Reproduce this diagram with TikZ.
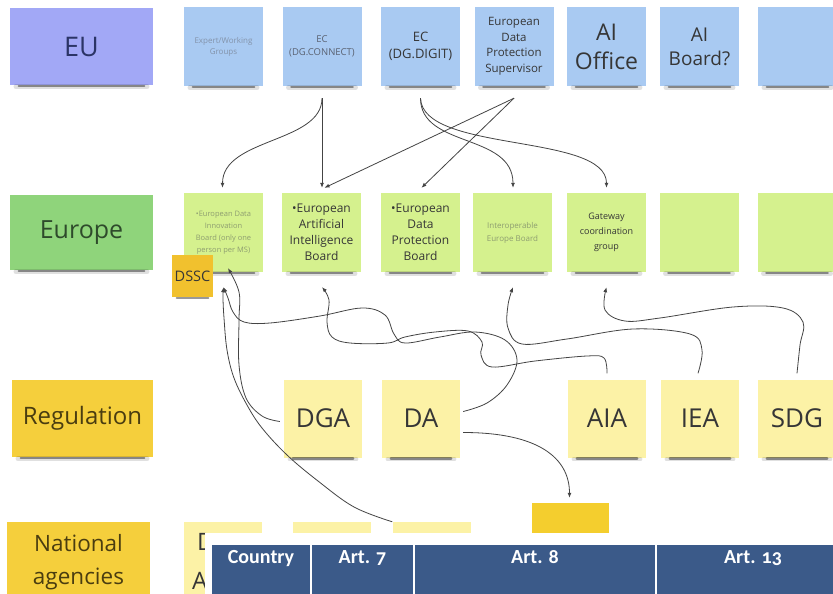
\documentclass[tikz,border=0pt]{standalone}
\usepackage{fontspec}
\setmainfont{Open Sans}
\newfontfamily\tablefont[Numbers=OldStyle]{Carlito}
\usetikzlibrary{calc, arrows.meta}
\tikzset{>={Latex[length=5pt,width=4pt]}}

\definecolor{labelblue}{HTML}{A2A8F6}
\definecolor{noteblue}{HTML}{A9CAF2}
\definecolor{labelgreen}{HTML}{8FD47B}
\definecolor{notegreen}{HTML}{D5F18E}
\definecolor{labelyellow}{HTML}{F5CF3C}
\definecolor{noteyellow}{HTML}{FCF2A6}
\definecolor{dsscyellow}{HTML}{F1C12E}
\definecolor{natorangefill}{HTML}{F4CE2E}
\definecolor{tableblue}{HTML}{3B5A89}
\definecolor{inkdark}{HTML}{363636}
\definecolor{inkmid}{HTML}{5A6272}
\definecolor{inkfade}{HTML}{8393AA}
\definecolor{inkfadegreen}{HTML}{8E9E70}
\definecolor{inkeu}{HTML}{2B3466}
\definecolor{inkeurope}{HTML}{2E4A2B}
\definecolor{inkreg}{HTML}{4A3D10}
\definecolor{wirecol}{HTML}{444444}

\newcommand{\notefont}[2]{\fontsize{#1pt}{#2pt}\selectfont}

\tikzset{
  note/.style={minimum width=79pt, minimum height=79pt, inner sep=1pt, align=center, text=inkdark},
  bluenote/.style={note, fill=noteblue},
  greennote/.style={note, fill=notegreen},
  yellownote/.style={note, fill=noteyellow, minimum width=78pt, minimum height=78pt, font={\notefont{26}{30}}},
  rowlabel/.style={minimum width=143pt, minimum height=77pt, align=center},
  wire/.style={draw=wirecol, line width=0.8pt, ->},
  shadowline/.style={line width=2.5pt, black, opacity=.4, line cap=round},
  shadowsoft/.style={line width=4.5pt, black, opacity=.12, line cap=round},
  cell/.style={fill=tableblue, draw=white, line width=1.5pt, outer sep=0pt, text=white,
    font={\tablefont\bfseries\notefont{20}{22}}, anchor=north west, inner xsep=0pt,
    inner ysep=6pt, text height=13pt, text depth=36pt, minimum height=56pt}
}

\begin{document}
\begin{tikzpicture}[x=1pt, y=-1pt]
\useasboundingbox[fill=white] (0,0) rectangle (833,594);

% row labels
\node[rowlabel, fill=labelblue, text=inkeu, font={\notefont{27}{32}}] (eu) at (81.5,46.5) {EU};
\node[rowlabel, fill=labelgreen, text=inkeurope, font={\notefont{25}{30}}, minimum height=75pt] (europe) at (81.5,232.5) {Europe};
\node[rowlabel, fill=labelyellow, text=inkreg, font={\notefont{24}{30}}, minimum width=141pt] (regulation) at (82.5,418.5) {Regulation};
\node[rowlabel, fill=labelyellow, text=inkreg, font={\notefont{22.5}{33}}, minimum height=80pt] (national) at (78.5,562) {National\\agencies};

% EU level
\node[bluenote, text=inkfade, font={\notefont{8}{11}}] (expert) at (223.5,46.5) {Expert/Working\\Groups};
\node[bluenote, text=inkmid, font={\notefont{9.5}{13}}] (dgconnect) at (322,46.5) {EC\\(DG.CONNECT)};
\node[bluenote, font={\notefont{13}{17}}] (dgdigit) at (420.5,46.5) {EC\\(DG.DIGIT)};
\node[bluenote, font={\notefont{11.5}{15.5}}] (edps) at (514,46.5) {European\\Data\\Protection\\Supervisor};
\node[bluenote, font={\notefont{23}{29}}] (aioffice) at (606.5,46.5) {AI\\Office};
\node[bluenote, font={\notefont{19}{24}}] (aiboard) at (699.5,46.5) {AI\\Board?};
\node[bluenote] (blueempty) at (797.5,46.5) {};

% Europe level
\node[greennote, text=inkfadegreen, font={\notefont{7.5}{12}}] (edib) at (223.5,232.5) {•European Data\\Innovation\\Board (only one\\person per MS)};
\node[greennote, font={\notefont{12}{16}}] (eaib) at (321.5,232.5) {•European\\Artificial\\Intelligence\\Board};
\node[greennote, font={\notefont{12}{16}}] (edpb) at (420.5,232.5) {•European\\Data\\Protection\\Board};
\node[greennote, text=inkfadegreen, font={\notefont{8}{13}}] (ieb) at (512.5,232.5) {Interoperable\\Europe Board};
\node[greennote, font={\notefont{9}{15}}] (gateway) at (606.5,232.5) {Gateway\\coordination\\group};
\node[greennote] (greenempty1) at (699,232.5) {};
\node[greennote] (greenempty2) at (797,232.5) {};

% regulations
\node[yellownote] (dga) at (323,418.5) {DGA};
\node[yellownote] (da) at (421,418.5) {DA};
\node[yellownote] (aia) at (607,418.5) {AIA};
\node[yellownote] (iea) at (700,418.5) {IEA};
\node[yellownote] (sdg) at (797,418.5) {SDG};

% shadows under the notes
\foreach \n in {eu,europe,regulation,expert,dgconnect,dgdigit,edps,aioffice,aiboard,blueempty,
  edib,eaib,edpb,ieb,gateway,greenempty1,greenempty2,dga,da,aia,iea,sdg}{
  \draw[shadowsoft] ($(\n.south west)+(6,1.5)$) -- ($(\n.south east)+(-6,1.5)$);
  \draw[shadowline] ($(\n.south west)+(9,1)$) -- ($(\n.south east)+(-9,1)$);
}

\node[note, fill=dsscyellow, minimum width=41pt, minimum height=42pt, inner sep=0pt, font={\notefont{14.5}{17}}] (dssc) at (192.5,276) {DSSC};
\draw[shadowline] ($(dssc.south west)+(5,1)$) -- ($(dssc.south east)+(-5,1)$);

% national agencies
\node[yellownote, minimum height=80pt] (nat1) at (223,562) {};
\node[yellownote, minimum height=80pt] (nat2) at (331.5,562) {};
\node[yellownote, minimum height=80pt] (nat3) at (431.5,562) {};
\node[note, fill=natorangefill, minimum width=77pt, minimum height=78pt] (natorange) at (570.5,542) {};
\node[anchor=base west, inner sep=0pt, text=inkdark, font={\notefont{24}{24}}] (natd) at (197,550) {D};
\node[anchor=base west, inner sep=0pt, text=inkdark, font={\notefont{24}{24}}] (nata) at (192,589) {A};

% EU -> Europe
\draw[wire] ($(dgconnect.south)+(0,12)$) .. controls +(0,45) and +(0,-50) .. ($(edib.north)+(-1,-5)$);
\draw[wire] ($(dgconnect.south)+(0,12)$) -- ($(eaib.north)+(0.5,-5)$);
\draw[wire] ($(edps.south)+(0,12)$) -- ($(eaib.north)+(3,-5)$);
\draw[wire] ($(edps.south)+(0,12)$) -- ($(edpb.north)+(1,-5)$);
\draw[wire] ($(dgdigit.south)+(0,12)$) .. controls +(0,50) and +(0,-55) .. ($(ieb.north)+(0.5,-5)$);
\draw[wire] ($(dgdigit.south)+(0,12)$) .. controls +(2,55) and +(0,-55) .. ($(gateway.north)+(0,-5)$);

% Regulation -> Europe
\coordinate (dgaout) at ($(dga.west)+(-4,3)$);
\coordinate (daout) at ($(da.east)+(3,-7)$);
\coordinate (aiaout) at ($(aia.north)+(0,-6)$);
\coordinate (ieaout) at ($(iea.north)+(-2,-6)$);
\coordinate (sdgout) at ($(sdg.north)+(0,-6)$);
\coordinate (edibin) at ($(edib.south)+(4.5,-4)$);
\coordinate (edibbelow) at ($(edib.south)+(0,15)$);
\coordinate (eaibin) at ($(eaib.south)+(0.5,15)$);
\coordinate (iebin) at ($(ieb.south)+(0.5,15)$);
\coordinate (gatewayin) at ($(gateway.south)+(0,15)$);

\draw[wire] plot[smooth, tension=0.6] coordinates {(dgaout) (262,416) (246,398) (239,365) (239,320) (239,292) (edibin)};
\draw[wire] plot[smooth, tension=0.6] coordinates {(nat3.north west) (354,507) (318,481) (287,455) (262,428) (247,405) (234,378) (227,350) (224,318) (223,298) (edibbelow)};
\draw[wire] plot[smooth, tension=0.6] coordinates {(daout) (487,403) (507,385) (517,360) (505,340) (475,332) (440,337) (405,343) (394,334) (385,315) (362,308) (320,316) (270,323) (244,322) (233,312) (228,298) (edibbelow)};
\draw[wire] plot[smooth, tension=0.6] coordinates {(aiaout) (604,358) (587,356) (535,361) (492,367) (481,355) (482,342) (468,331) (435,332) (405,337) (388,343) (350,343) (332,337) (327,322) (329,300) (eaibin)};
\draw[wire] plot[smooth, tension=0.6] coordinates {(ieaout) (702,350) (690,334) (633,329) (567,339) (522,344) (508,328) (508,305) (iebin)};
\draw[wire] plot[smooth, tension=0.6] coordinates {(sdgout) (800,345) (803,322) (783,308) (733,307) (660,318) (625,321) (605,310) (gatewayin)};

% DA -> national
\draw[wire] ($(da.east)+(3,14)$) .. controls +(75,0) and +(0,-40) .. ($(natorange.north)+(-1,-5)$);

% table on top
\fill[white] (205,533) rectangle (833,594);
\node[cell, minimum width=100pt] (country) at (211,544) {Country};
\node[cell, minimum width=103pt] (art7) at (country.north east) {Art. 7};
\node[cell, minimum width=242pt] (art8) at (art7.north east) {Art. 8};
\node[cell, minimum width=194pt] (art13) at (art8.north east) {Art. 13};
\end{tikzpicture}
\end{document}
